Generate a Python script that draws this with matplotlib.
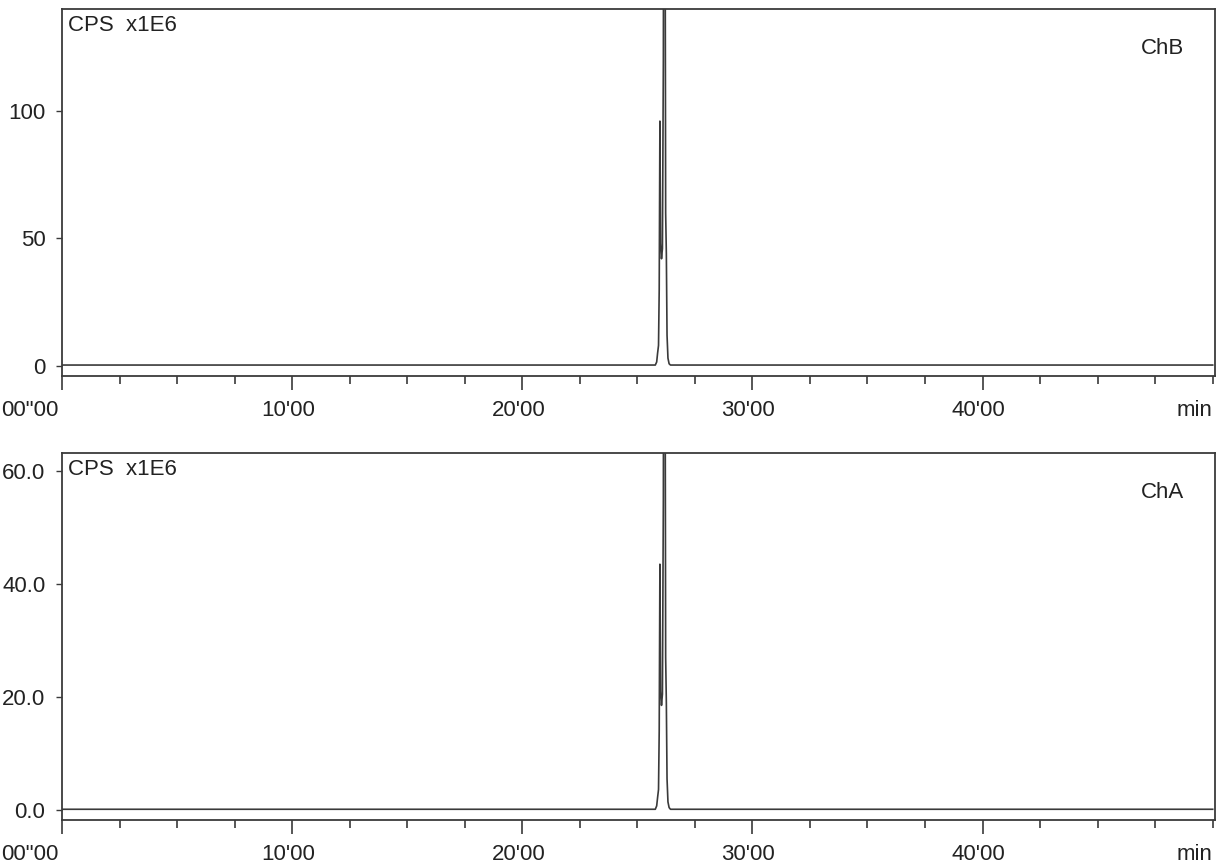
import numpy as np
import matplotlib.pyplot as plt
from matplotlib.ticker import MultipleLocator
import matplotlib.transforms as mtransforms

plt.rcParams["font.family"] = ["Liberation Sans", "DejaVu Sans"]

# retention time (min) and signal (CPS x1E6)
time_min = [0.0, 25.78, 25.84, 25.88, 25.92, 25.95, 25.98, 26.01, 26.05,
            26.09, 26.13, 26.17, 26.20, 26.23, 26.26, 26.29, 26.33, 26.38, 26.44, 50.0]
chB = [0.3, 0.3, 1.5, 5.0, 8.0, 30.0, 96.0, 48.0, 42.0,
       46.0, 120.0, 400.0, 210.0, 60.0, 44.0, 12.0, 3.0, 0.8, 0.3, 0.3]
chA = [0.1, 0.1, 0.7, 2.2, 3.6, 14.0, 43.5, 21.0, 18.5,
       20.5, 55.0, 180.0, 95.0, 27.0, 19.0, 5.5, 1.4, 0.4, 0.1, 0.1]

xtick_vals = [0, 10, 20, 30, 40]
xtick_labels = ['00"00', "10'00", "20'00", "30'00", "40'00"]

panels = [
    ("ChB", chB, (-4, 140), [0, 50, 100], ["0", "50", "100"]),
    ("ChA", chA, (-1.8, 63.2), [0, 20, 40, 60], ["0.0", "20.0", "40.0", "60.0"]),
]

W, H = 1217, 868
fig = plt.figure(figsize=(W / 100, H / 100), dpi=100)

# pixel boxes (left, top, right, bottom) of each frame
boxes = [(62, 9, 1215, 376), (62, 453, 1215, 820)]
ink = "#3a3a3a"
txt = "#222222"
fs = 16

for (name, sig, ylim, yt, ytl), (l, t, r, b) in zip(panels, boxes):
    ax = fig.add_axes([l / W, 1 - b / H, (r - l) / W, (b - t) / H])
    ax.plot(time_min, sig, color=ink, lw=1.2)
    ax.set_xlim(0, 50.1)
    ax.set_ylim(*ylim)
    ax.set_xticks(xtick_vals)
    ax.set_xticklabels(xtick_labels)
    ax.xaxis.set_minor_locator(MultipleLocator(2.5))
    ax.set_yticks(yt)
    ax.set_yticklabels(ytl)
    ax.tick_params(axis="x", which="major", direction="out", length=10, width=1.2,
                   color=ink, labelsize=fs, pad=7, labelcolor=txt)
    ax.tick_params(axis="x", which="minor", direction="out", length=6, width=1.2, color=ink)
    ax.tick_params(axis="y", direction="out", length=4, width=1.0, color=ink,
                   labelsize=fs, pad=8, labelcolor=txt)
    # labels sit a little left of their ticks; the first one ends at the tick
    shift = mtransforms.ScaledTranslation(-4 / 100, 0, fig.dpi_scale_trans)
    for i, lab in enumerate(ax.get_xticklabels()):
        lab.set_transform(lab.get_transform() + shift)
        if i == 0:
            lab.set_ha("right")
    for s in ax.spines.values():
        s.set_color(ink)
        s.set_linewidth(1.3)
    ax.text(0.005, 0.985, "CPS  x1E6", transform=ax.transAxes, ha="left", va="top",
            fontsize=fs, color=txt)
    ax.text(0.973, 0.92, name, transform=ax.transAxes, ha="right", va="top",
            fontsize=fs, color=txt)
    ax.text(0.9975, -0.065, "min", transform=ax.transAxes, ha="right", va="top",
            fontsize=fs, color=txt)

fig.savefig("out.png", dpi=100)
